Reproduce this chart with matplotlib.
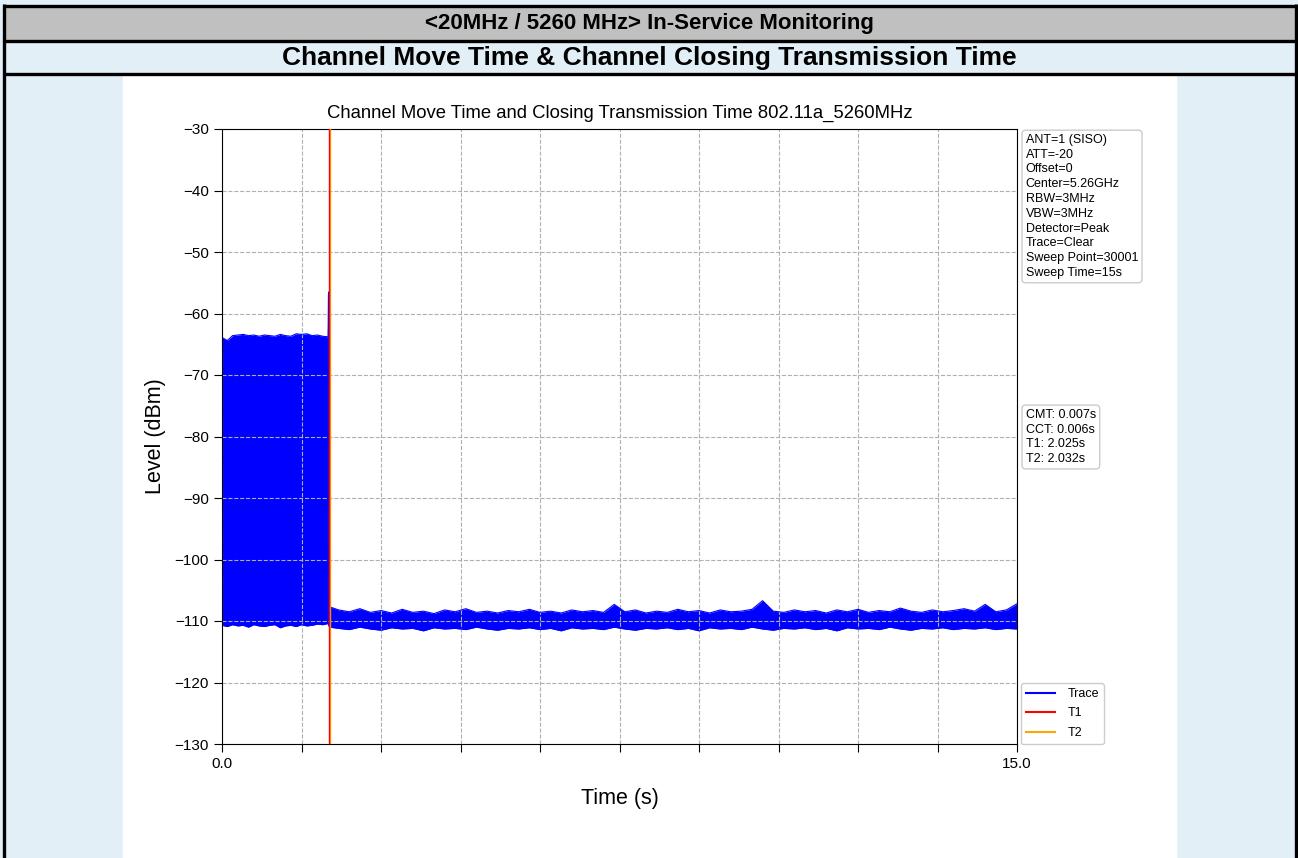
import matplotlib
matplotlib.use("Agg")
import matplotlib.pyplot as plt
from matplotlib.patches import Rectangle
from matplotlib.lines import Line2D
import numpy as np

plt.rcParams['font.family'] = ['Liberation Sans', 'DejaVu Sans']

# Header texts
header_top = "<20MHz / 5260 MHz> In-Service Monitoring"
header_sub = "Channel Move Time & Channel Closing Transmission Time"
chart_title = "Channel Move Time and Closing Transmission Time 802.11a_5260MHz"

# Measurement settings / results
settings = ["ANT=1 (SISO)", "ATT=-20", "Offset=0", "Center=5.26GHz", "RBW=3MHz",
            "VBW=3MHz", "Detector=Peak", "Trace=Clear", "Sweep Point=30001",
            "Sweep Time=15s"]
results = ["CMT: 0.007s", "CCT: 0.006s", "T1: 2.025s", "T2: 2.032s"]
t1 = 2.025
t2 = 2.032

# Trace envelope (upper / lower edge of the noise band)
# transmission part, 0 .. 2.0 s
on_t = [0.00, 0.10, 0.20, 0.30, 0.40, 0.50, 0.60, 0.70, 0.80, 0.90, 1.00,
        1.10, 1.20, 1.30, 1.40, 1.50, 1.60, 1.70, 1.80, 1.90, 2.00]
on_hi = [-63.9, -64.4, -63.6, -63.5, -63.4, -63.6, -63.5, -63.7, -63.5, -63.6, -63.7,
         -63.4, -63.6, -63.7, -63.3, -63.4, -63.3, -63.6, -63.5, -63.7, -63.8]
on_lo = [-110.7, -110.9, -110.6, -110.8, -110.7, -111.0, -110.6, -110.8, -110.9, -110.7, -110.6,
         -111.1, -110.8, -110.7, -110.9, -110.6, -110.8, -110.7, -110.5, -110.6, -110.4]
# last burst before the move
burst_t = [2.004, 2.008, 2.014, 2.016, 2.032]
burst_hi = [-62.0, -57.0, -56.5, -108.0, -107.7]
burst_lo = [-110.5, -110.6, -110.5, -110.8, -111.0]
# after the channel move, 2.2 .. 15.0 s every 0.2 s
off_t = np.round(np.arange(2.2, 15.01, 0.2), 2)
off_hi = [-108.2, -108.5, -108.0, -108.6, -108.3, -108.7, -108.1, -108.6, -108.4, -108.8,
          -108.2, -108.5, -108.0, -108.6, -108.4, -108.7, -108.3, -108.5, -108.1, -108.6,
          -108.4, -108.7, -108.2, -108.5, -108.3, -108.6, -107.3, -108.5, -108.2, -108.7,
          -108.4, -108.6, -108.1, -108.5, -108.3, -108.7, -108.2, -108.5, -108.4, -108.1,
          -106.7, -108.4, -108.6, -108.2, -108.5, -108.3, -108.7, -108.2, -108.5, -108.1,
          -108.6, -108.3, -108.5, -107.9, -108.4, -108.6, -108.2, -108.5, -108.3, -108.0,
          -108.4, -107.3, -108.5, -108.2, -107.2]
off_lo = [-111.2, -111.4, -111.0, -111.3, -111.5, -111.1, -111.3, -111.2, -111.6, -111.1,
          -111.3, -111.2, -111.4, -111.0, -111.3, -111.5, -111.2, -111.3, -111.1, -111.4,
          -111.2, -111.6, -111.1, -111.3, -111.2, -111.4, -111.0, -111.3, -111.5, -111.2,
          -111.3, -111.1, -111.4, -111.2, -111.6, -111.1, -111.3, -111.2, -111.4, -111.0,
          -111.3, -111.5, -111.2, -111.3, -111.1, -111.4, -111.2, -111.6, -111.1, -111.3,
          -111.2, -111.4, -111.0, -111.3, -111.5, -111.2, -111.3, -111.1, -111.4, -111.2,
          -111.3, -111.1, -111.4, -111.2, -111.3]

trace_t = np.concatenate([on_t, burst_t, off_t])
trace_hi = np.concatenate([on_hi, burst_hi, off_hi])
trace_lo = np.concatenate([on_lo, burst_lo, off_lo])

x_ticks = [0.0, 1.5, 3.0, 4.5, 6.0, 7.5, 9.0, 10.5, 12.0, 13.5, 15.0]
x_tick_labels = ["0.0", "", "", "", "", "", "", "", "", "", "15.0"]
y_ticks = [-130, -120, -110, -100, -90, -80, -70, -60, -50, -40, -30]

fig = plt.figure(figsize=(12.98, 8.58), dpi=100)

# page background drawn in pixel coordinates
bg = fig.add_axes([0, 0, 1, 1], zorder=-10)
bg.set_xlim(0, 1298)
bg.set_ylim(858, 0)
bg.axis('off')
bg.add_patch(Rectangle((0, 0), 1298, 858, color='#e3eff6'))
bg.add_patch(Rectangle((4, 6), 1292, 35, color='#c0c0c0'))
bg.add_patch(Rectangle((123, 75), 1053, 783, color='white'))
for y in [5.5, 41, 73.5]:
    bg.plot([3, 1297], [y, y], color='black', lw=2.4, solid_capstyle='butt')
for x in [4, 1296]:
    bg.plot([x, x], [4, 858], color='black', lw=2.4, solid_capstyle='butt')
bg.text(649, 23, header_top, ha='center', va='center', fontsize=16, weight='bold')
bg.text(649, 58, header_sub, ha='center', va='center', fontsize=19, weight='bold')

ax = fig.add_axes([222 / 1298, 1 - 744 / 858, 795 / 1298, 615 / 858])
ax.plot(trace_t, trace_hi, color='blue', lw=0.8)
ax.plot(trace_t, trace_lo, color='blue', lw=0.8)
ax.fill_between(trace_t, trace_lo, trace_hi, color='blue', lw=0)
ax.axvline(t2, color='orange', lw=1, zorder=3)
ax.axvline(t1, color='red', lw=1, zorder=4)

ax.set_xlim(0, 15)
ax.set_ylim(-130, -30)
ax.set_xticks(x_ticks)
ax.set_xticklabels(x_tick_labels)
ax.set_yticks(y_ticks)
ax.tick_params(labelsize=11, length=6)
ax.grid(True, linestyle='--', color='#b0b0b0', lw=0.8)
ax.set_title(chart_title, fontsize=13.3, pad=8)
ax.set_xlabel("Time (s)", fontsize=15.5, labelpad=12)
ax.set_ylabel("Level (dBm)", fontsize=15.5, labelpad=6)

box = dict(boxstyle='round,pad=0.3', facecolor='white', edgecolor='#cccccc', lw=1)
ax.text(1.011, 0.992, "\n".join(settings), transform=ax.transAxes, fontsize=9,
        va='top', ha='left', bbox=box, linespacing=1.31)
ax.text(1.011, 0.545, "\n".join(results), transform=ax.transAxes, fontsize=9,
        va='top', ha='left', bbox=box, linespacing=1.31)

handles = [Line2D([], [], color='blue', lw=1.5),
           Line2D([], [], color='red', lw=1.5),
           Line2D([], [], color='orange', lw=1.5)]
ax.legend(handles, ['Trace', 'T1', 'T2'], loc='lower left', bbox_to_anchor=(1.005, 0.0),
          borderaxespad=0, fontsize=9, fancybox=True, framealpha=1,
          handlelength=2.3, handletextpad=1.0, labelspacing=0.6)

fig.savefig("out.png", dpi=100)
